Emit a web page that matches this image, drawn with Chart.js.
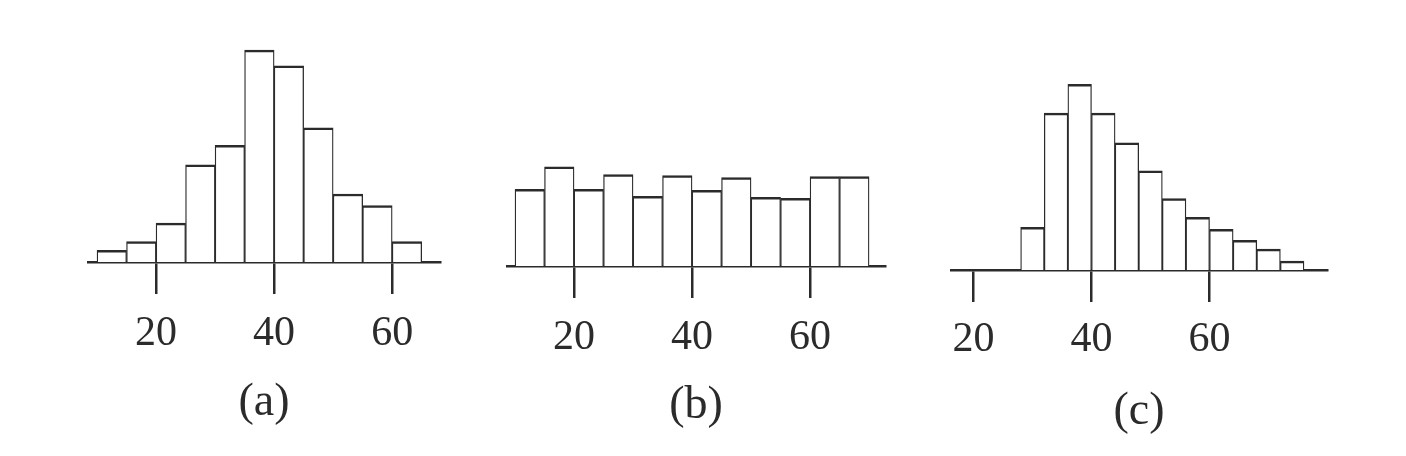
<!DOCTYPE html>
<html>
<head>
<meta charset="utf-8">
<script src="https://cdn.jsdelivr.net/npm/chart.js@4/dist/chart.umd.min.js"></script>
<style>
  html, body { margin: 0; padding: 0; background: #fff; }
  body { width: 1406px; height: 456px; position: relative; overflow: hidden; }
  .panel { position: absolute; top: 0; height: 456px; }
</style>
</head>
<body>
<div class="panel" id="wrapA" style="left:58px;width:412px"><canvas id="chartA"></canvas></div>
<div class="panel" id="wrapB" style="left:477px;width:438px"><canvas id="chartB"></canvas></div>
<div class="panel" id="wrapC" style="left:921px;width:436px"><canvas id="chartC"></canvas></div>
<script>
// Données : debut de chaque classe et pourcentage par classe
const binStartA = [10, 15, 20, 25, 30, 35, 40, 45, 50, 55, 60];
const binWidthA = 5;
const valuesA = [1.2, 2.1, 4.0, 10.0, 12.0, 21.8, 20.2, 13.8, 7.0, 5.8, 2.1];

const binStartB = [10, 15, 20, 25, 30, 35, 40, 45, 50, 55, 60, 65];
const binWidthB = 5;
const valuesB = [7.8, 10.1, 7.8, 9.3, 7.1, 9.2, 7.7, 9.0, 7.0, 6.9, 9.1, 9.1];

const binStartC = [28, 32, 36, 40, 44, 48, 52, 56, 60, 64, 68, 72];
const binWidthC = 4;
const valuesC = [4.3, 15.8, 18.7, 15.8, 12.8, 10.0, 7.2, 5.3, 4.1, 3.0, 2.1, 0.9];

const tickValues = [20, 40, 60];

const ink = '#2b2b2b';
const serif = 'Liberation Serif, Times New Roman, serif';

// Construit un histogramme (barres collees) sur un axe x lineaire
function histogram(id, starts, width, values, opts) {
    const points = starts.map((s, i) => ({ x: s + width / 2, y: values[i] }));
    return new Chart(document.getElementById(id), {
        type: 'bar',
        data: {
            datasets: [{
                data: points,
                backgroundColor: '#ffffff',
                borderColor: ink,
                borderWidth: { top: 2.5, left: 1.3, right: 1.3, bottom: 0 },
                borderSkipped: 'start',
                barPercentage: 1,
                categoryPercentage: 1
            }]
        },
        options: {
            animation: false,
            responsive: true,
            maintainAspectRatio: false,
            layout: { padding: { left: 30, right: 30, top: opts.top, bottom: 0 } },
            plugins: { legend: { display: false }, tooltip: { enabled: false } },
            scales: {
                x: {
                    type: 'linear',
                    min: opts.min,
                    max: opts.max,
                    offset: false,
                    afterBuildTicks: (scale) => {
                        scale.ticks = tickValues.map(v => ({ value: v }));
                    },
                    afterFit: (scale) => { scale.height = opts.axisH; },
                    grid: {
                        offset: false,
                        drawOnChartArea: false,
                        drawTicks: true,
                        tickLength: 32,
                        color: ink,
                        lineWidth: 2.5
                    },
                    border: { display: true, color: ink, width: 2.5 },
                    ticks: {
                        color: ink,
                        padding: opts.tickPad,
                        maxRotation: 0,
                        autoSkip: false,
                        font: { family: serif, size: 42 },
                        callback: (v) => v
                    },
                    title: {
                        display: true,
                        text: opts.label,
                        color: ink,
                        font: { family: serif, size: 46 },
                        padding: { top: 0, bottom: opts.titlePad }
                    }
                },
                y: {
                    display: false,
                    min: 0,
                    max: 24
                }
            }
        }
    });
}

histogram('chartA', binStartA, binWidthA, valuesA,
    { min: 8.47, max: 68.1, top: 28.8, axisH: 194, tickPad: 15, titlePad: 25, label: '(a)' });
histogram('chartB', binStartB, binWidthB, valuesB,
    { min: 8.64, max: 72.7, top: 30.3, axisH: 190, tickPad: 15, titlePad: 22, label: '(b)' });
histogram('chartC', binStartC, binWidthC, valuesC,
    { min: 16.2, max: 79.9, top: 31.7, axisH: 186, tickPad: 13, titlePad: 16, label: '(c)' });
</script>
</body>
</html>
